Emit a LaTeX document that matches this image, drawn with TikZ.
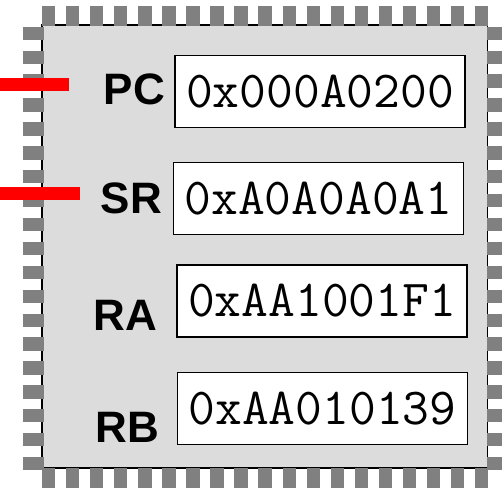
\documentclass[tikz,border=0pt]{standalone}
\usepackage{fontspec}
\setsansfont{Liberation Sans}
\usepackage{tikz}

\definecolor{chipgray}{RGB}{220,220,220}
\definecolor{pingray}{RGB}{128,128,128}

\begin{document}
\begin{tikzpicture}[x=1pt, y=-1pt,
        regname/.style = {anchor = base east, inner sep = 0pt,
            font = \fontsize{44}{48}\selectfont\sffamily\bfseries},
        regval/.style = {draw = black, line width = 1.6pt, fill = white,
            minimum width = 290pt, minimum height = 72pt, inner sep = 0pt,
            font = \fontsize{52}{56}\selectfont\ttfamily},
        pinrow/.style = {draw = pingray, dash pattern = on 13.3pt off 10.75pt},
        wire/.style = {draw = red, line width = 13pt}]

        \useasboundingbox (0,0) rectangle (502,489);

        % chip body and pins
        \draw[fill = chipgray, line width = 1.5pt] (42,25) rectangle (487.5,468);
        \draw[pinrow, line width = 20pt] (42,16) -- (489,16);
        \draw[pinrow, line width = 20pt] (42,477.75) -- (489,477.75);
        \draw[pinrow, line width = 20.5pt, dash pattern = on 13.3pt off 10.6pt]
            (33.25,26.7) -- (33.25,472);
        \draw[pinrow, line width = 15pt, dash pattern = on 13.3pt off 10.6pt]
            (494.5,26.7) -- (494.5,472);

        % registers
        \node (pc)[regname] at (165,105) {PC};
        \node (sr)[regname] at (162,213) {SR};
        \node (ra)[regname] at (157,330) {RA};
        \node (rb)[regname] at (159,442) {RB};

        \node (pc_val)[regval] at (320,91.5) {0x000A0200};
        \node (sr_val)[regval] at (318.5,198.5) {0xA0A0A0A1};
        \node (ra_val)[regval] at (322,301) {0xAA1001F1};
        \node (rb_val)[regval] at (322.5,408.5) {0xAA010139};

        % lines into the chip
        \coordinate (pc_in) at (0,84.5);
        \coordinate (pc_end) at (69,84.5);
        \coordinate (sr_in) at (0,193.5);
        \coordinate (sr_end) at (80,193.5);
        \path (pc_in) edge[wire] (pc_end);
        \path (sr_in) edge[wire] (sr_end);
    \end{tikzpicture}
\end{document}
